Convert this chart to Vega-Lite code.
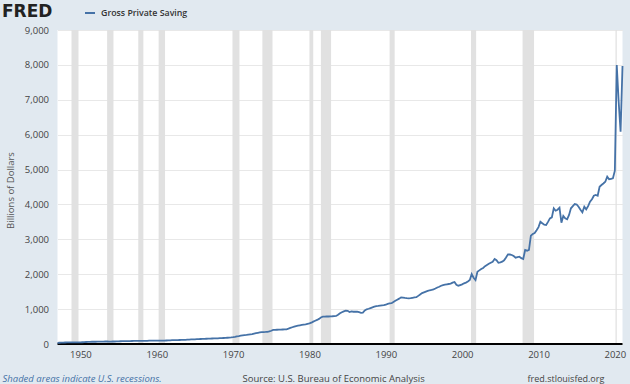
{
  "$schema": "https://vega.github.io/schema/vega-lite/v6.json",
  "autosize": {"type": "none"},
  "width": 565,
  "height": 314,
  "padding": {"left": 57.5, "top": 30, "right": 7.5, "bottom": 40},
  "background": "#e1e9f0",
  "view": {"fill": "white", "stroke": null},
  "config": {"font": "Open Sans"},
  "resolve": {"axis": {"x": "independent", "y": "independent"}},
  "layer": [
    {
      "data": {"values": [
        {"start": "1948-11-01", "end": "1949-10-01"},
        {"start": "1953-07-01", "end": "1954-05-01"},
        {"start": "1957-08-01", "end": "1958-04-01"},
        {"start": "1960-04-01", "end": "1961-02-01"},
        {"start": "1969-12-01", "end": "1970-11-01"},
        {"start": "1973-11-01", "end": "1975-03-01"},
        {"start": "1980-01-01", "end": "1980-07-01"},
        {"start": "1981-07-01", "end": "1982-11-01"},
        {"start": "1990-07-01", "end": "1991-03-01"},
        {"start": "2001-03-01", "end": "2001-11-01"},
        {"start": "2007-12-01", "end": "2009-06-01"},
        {"start": "2020-02-01", "end": "2020-04-01"}
      ]},
      "mark": {"type": "rect", "color": "#e1e1e1"},
      "encoding": {
        "x": {"field": "start", "type": "temporal",
              "scale": {"domain": ["1947-01-01", "2021-01-01"]},
              "axis": {"orient": "bottom", "title": "Shaded areas indicate U.S. recessions.", "labels": false, "ticks": false, "domain": false, "grid": false,
                       "titleX": -55.5, "titleY": 34, "titleAlign": "left", "titleBaseline": "middle", "titleAnchor": null,
                       "titleFont": "Open Sans", "titleFontSize": 9.5, "titleFontWeight": "normal", "titleFontStyle": "italic", "titleColor": "#4572a7"}},
        "x2": {"field": "end"}
      }
    },
    {
      "data": {"values": [{}]},
      "mark": {"type": "rule", "color": "#000000", "strokeWidth": 2},
      "encoding": {
        "y": {"datum": 0, "type": "quantitative",
              "scale": {"domain": [0, 9000], "nice": false},
              "axis": {"orient": "right", "title": "fred.stlouisfed.org", "labels": false, "ticks": false, "domain": false, "grid": false,
                       "titleAngle": 0, "titleX": -95.5, "titleY": 348, "titleAlign": "left", "titleBaseline": "middle", "titleAnchor": null,
                       "titleFont": "Open Sans", "titleFontSize": 9, "titleFontWeight": "normal", "titleColor": "#444444"}}
      }
    },
    {
      "data": {"values": [
{"date":"1947-01-01","value":34},{"date":"1947-04-01","value":36},{"date":"1947-07-01","value":38},{"date":"1947-10-01","value":40},
{"date":"1948-01-01","value":43},{"date":"1948-04-01","value":46},{"date":"1948-07-01","value":48},{"date":"1948-10-01","value":49},
{"date":"1949-01-01","value":47},{"date":"1949-04-01","value":45},{"date":"1949-07-01","value":44},{"date":"1949-10-01","value":44},
{"date":"1950-01-01","value":47},{"date":"1950-04-01","value":50},{"date":"1950-07-01","value":54},{"date":"1950-10-01","value":57},
{"date":"1951-01-01","value":60},{"date":"1951-04-01","value":62},{"date":"1951-07-01","value":64},{"date":"1951-10-01","value":65},
{"date":"1952-01-01","value":65},{"date":"1952-04-01","value":66},{"date":"1952-07-01","value":67},{"date":"1952-10-01","value":68},
{"date":"1953-01-01","value":70},{"date":"1953-04-01","value":71},{"date":"1953-07-01","value":71},{"date":"1953-10-01","value":70},
{"date":"1954-01-01","value":70},{"date":"1954-04-01","value":71},{"date":"1954-07-01","value":72},{"date":"1954-10-01","value":74},
{"date":"1955-01-01","value":77},{"date":"1955-04-01","value":79},{"date":"1955-07-01","value":81},{"date":"1955-10-01","value":82},
{"date":"1956-01-01","value":83},{"date":"1956-04-01","value":84},{"date":"1956-07-01","value":85},{"date":"1956-10-01","value":86},
{"date":"1957-01-01","value":88},{"date":"1957-04-01","value":89},{"date":"1957-07-01","value":90},{"date":"1957-10-01","value":88},
{"date":"1958-01-01","value":87},{"date":"1958-04-01","value":87},{"date":"1958-07-01","value":89},{"date":"1958-10-01","value":92},
{"date":"1959-01-01","value":96},{"date":"1959-04-01","value":98},{"date":"1959-07-01","value":97},{"date":"1959-10-01","value":98},
{"date":"1960-01-01","value":99},{"date":"1960-04-01","value":98},{"date":"1960-07-01","value":98},{"date":"1960-10-01","value":97},
{"date":"1961-01-01","value":99},{"date":"1961-04-01","value":101},{"date":"1961-07-01","value":104},{"date":"1961-10-01","value":106},
{"date":"1962-01-01","value":109},{"date":"1962-04-01","value":111},{"date":"1962-07-01","value":112},{"date":"1962-10-01","value":113},
{"date":"1963-01-01","value":114},{"date":"1963-04-01","value":116},{"date":"1963-07-01","value":118},{"date":"1963-10-01","value":120},
{"date":"1964-01-01","value":124},{"date":"1964-04-01","value":127},{"date":"1964-07-01","value":130},{"date":"1964-10-01","value":132},
{"date":"1965-01-01","value":135},{"date":"1965-04-01","value":138},{"date":"1965-07-01","value":141},{"date":"1965-10-01","value":143},
{"date":"1966-01-01","value":145},{"date":"1966-04-01","value":148},{"date":"1966-07-01","value":151},{"date":"1966-10-01","value":153},
{"date":"1967-01-01","value":156},{"date":"1967-04-01","value":158},{"date":"1967-07-01","value":160},{"date":"1967-10-01","value":162},
{"date":"1968-01-01","value":164},{"date":"1968-04-01","value":167},{"date":"1968-07-01","value":170},{"date":"1968-10-01","value":172},
{"date":"1969-01-01","value":175},{"date":"1969-04-01","value":179},{"date":"1969-07-01","value":184},{"date":"1969-10-01","value":188},
{"date":"1970-01-01","value":195},{"date":"1970-04-01","value":205},{"date":"1970-07-01","value":218},{"date":"1970-10-01","value":228},
{"date":"1971-01-01","value":240},{"date":"1971-04-01","value":250},{"date":"1971-07-01","value":256},{"date":"1971-10-01","value":262},
{"date":"1972-01-01","value":270},{"date":"1972-04-01","value":278},{"date":"1972-07-01","value":285},{"date":"1972-10-01","value":298},
{"date":"1973-01-01","value":310},{"date":"1973-04-01","value":320},{"date":"1973-07-01","value":330},{"date":"1973-10-01","value":340},
{"date":"1974-01-01","value":342},{"date":"1974-04-01","value":345},{"date":"1974-07-01","value":350},{"date":"1974-10-01","value":362},
{"date":"1975-01-01","value":380},{"date":"1975-04-01","value":402},{"date":"1975-07-01","value":405},{"date":"1975-10-01","value":408},
{"date":"1976-01-01","value":410},{"date":"1976-04-01","value":413},{"date":"1976-07-01","value":416},{"date":"1976-10-01","value":418},
{"date":"1977-01-01","value":422},{"date":"1977-04-01","value":440},{"date":"1977-07-01","value":460},{"date":"1977-10-01","value":480},
{"date":"1978-01-01","value":498},{"date":"1978-04-01","value":515},{"date":"1978-07-01","value":525},{"date":"1978-10-01","value":535},
{"date":"1979-01-01","value":545},{"date":"1979-04-01","value":555},{"date":"1979-07-01","value":565},{"date":"1979-10-01","value":580},
{"date":"1980-01-01","value":592},{"date":"1980-04-01","value":610},{"date":"1980-07-01","value":640},{"date":"1980-10-01","value":665},
{"date":"1981-01-01","value":690},{"date":"1981-04-01","value":720},{"date":"1981-07-01","value":760},{"date":"1981-10-01","value":782},
{"date":"1982-01-01","value":785},{"date":"1982-04-01","value":790},{"date":"1982-07-01","value":788},{"date":"1982-10-01","value":792},
{"date":"1983-01-01","value":795},{"date":"1983-04-01","value":800},{"date":"1983-07-01","value":805},{"date":"1983-10-01","value":840},
{"date":"1984-01-01","value":880},{"date":"1984-04-01","value":910},{"date":"1984-07-01","value":935},{"date":"1984-10-01","value":955},
{"date":"1985-01-01","value":950},{"date":"1985-04-01","value":915},{"date":"1985-07-01","value":935},{"date":"1985-10-01","value":925},
{"date":"1986-01-01","value":925},{"date":"1986-04-01","value":930},{"date":"1986-07-01","value":912},{"date":"1986-10-01","value":895},
{"date":"1987-01-01","value":900},{"date":"1987-04-01","value":960},{"date":"1987-07-01","value":995},{"date":"1987-10-01","value":1010},
{"date":"1988-01-01","value":1030},{"date":"1988-04-01","value":1050},{"date":"1988-07-01","value":1070},{"date":"1988-10-01","value":1088},
{"date":"1989-01-01","value":1092},{"date":"1989-04-01","value":1100},{"date":"1989-07-01","value":1108},{"date":"1989-10-01","value":1112},
{"date":"1990-01-01","value":1125},{"date":"1990-04-01","value":1150},{"date":"1990-07-01","value":1165},{"date":"1990-10-01","value":1170},
{"date":"1991-01-01","value":1205},{"date":"1991-04-01","value":1240},{"date":"1991-07-01","value":1270},{"date":"1991-10-01","value":1300},
{"date":"1992-01-01","value":1338},{"date":"1992-04-01","value":1330},{"date":"1992-07-01","value":1320},{"date":"1992-10-01","value":1312},
{"date":"1993-01-01","value":1308},{"date":"1993-04-01","value":1315},{"date":"1993-07-01","value":1325},{"date":"1993-10-01","value":1335},
{"date":"1994-01-01","value":1340},{"date":"1994-04-01","value":1380},{"date":"1994-07-01","value":1420},{"date":"1994-10-01","value":1460},
{"date":"1995-01-01","value":1480},{"date":"1995-04-01","value":1500},{"date":"1995-07-01","value":1520},{"date":"1995-10-01","value":1540},
{"date":"1996-01-01","value":1550},{"date":"1996-04-01","value":1568},{"date":"1996-07-01","value":1590},{"date":"1996-10-01","value":1620},
{"date":"1997-01-01","value":1640},{"date":"1997-04-01","value":1670},{"date":"1997-07-01","value":1690},{"date":"1997-10-01","value":1700},
{"date":"1998-01-01","value":1710},{"date":"1998-04-01","value":1720},{"date":"1998-07-01","value":1730},{"date":"1998-10-01","value":1760},
{"date":"1999-01-01","value":1777},{"date":"1999-04-01","value":1700},{"date":"1999-07-01","value":1671},{"date":"1999-10-01","value":1690},
{"date":"2000-01-01","value":1710},{"date":"2000-04-01","value":1740},{"date":"2000-07-01","value":1760},{"date":"2000-10-01","value":1790},
{"date":"2001-01-01","value":1834},{"date":"2001-04-01","value":2006},{"date":"2001-07-01","value":1900},{"date":"2001-10-01","value":1834},
{"date":"2002-01-01","value":2072},{"date":"2002-04-01","value":2110},{"date":"2002-07-01","value":2150},{"date":"2002-10-01","value":2180},
{"date":"2003-01-01","value":2230},{"date":"2003-04-01","value":2264},{"date":"2003-07-01","value":2300},{"date":"2003-10-01","value":2330},
{"date":"2004-01-01","value":2359},{"date":"2004-04-01","value":2436},{"date":"2004-07-01","value":2400},{"date":"2004-10-01","value":2330},
{"date":"2005-01-01","value":2340},{"date":"2005-04-01","value":2359},{"date":"2005-07-01","value":2400},{"date":"2005-10-01","value":2480},
{"date":"2006-01-01","value":2570},{"date":"2006-04-01","value":2565},{"date":"2006-07-01","value":2551},{"date":"2006-10-01","value":2520},
{"date":"2007-01-01","value":2473},{"date":"2007-04-01","value":2490},{"date":"2007-07-01","value":2502},{"date":"2007-10-01","value":2460},
{"date":"2008-01-01","value":2436},{"date":"2008-04-01","value":2694},{"date":"2008-07-01","value":2674},{"date":"2008-10-01","value":2700},
{"date":"2009-01-01","value":3104},{"date":"2009-04-01","value":3153},{"date":"2009-07-01","value":3180},{"date":"2009-10-01","value":3260},
{"date":"2010-01-01","value":3350},{"date":"2010-04-01","value":3505},{"date":"2010-07-01","value":3460},{"date":"2010-10-01","value":3420},
{"date":"2011-01-01","value":3411},{"date":"2011-04-01","value":3500},{"date":"2011-07-01","value":3600},{"date":"2011-10-01","value":3631},
{"date":"2012-01-01","value":3889},{"date":"2012-04-01","value":3821},{"date":"2012-07-01","value":3850},{"date":"2012-10-01","value":3906},
{"date":"2013-01-01","value":3477},{"date":"2013-04-01","value":3668},{"date":"2013-07-01","value":3600},{"date":"2013-10-01","value":3573},
{"date":"2014-01-01","value":3700},{"date":"2014-04-01","value":3889},{"date":"2014-07-01","value":3950},{"date":"2014-10-01","value":4012},
{"date":"2015-01-01","value":4000},{"date":"2015-04-01","value":3935},{"date":"2015-07-01","value":3850},{"date":"2015-10-01","value":3774},
{"date":"2016-01-01","value":3935},{"date":"2016-04-01","value":3860},{"date":"2016-07-01","value":3950},{"date":"2016-10-01","value":4078},
{"date":"2017-01-01","value":4150},{"date":"2017-04-01","value":4250},{"date":"2017-07-01","value":4270},{"date":"2017-10-01","value":4250},
{"date":"2018-01-01","value":4508},{"date":"2018-04-01","value":4557},{"date":"2018-07-01","value":4600},{"date":"2018-10-01","value":4650},
{"date":"2019-01-01","value":4795},{"date":"2019-04-01","value":4720},{"date":"2019-07-01","value":4735},{"date":"2019-10-01","value":4749},
{"date":"2020-01-01","value":4967},{"date":"2020-04-01","value":7996},{"date":"2020-07-01","value":6950},{"date":"2020-10-01","value":6085},
{"date":"2021-01-01","value":7968}
      ]},
      "mark": {"type": "line", "strokeWidth": 1.8},
      "encoding": {
        "x": {"field": "date", "type": "temporal",
              "scale": {"domain": ["1947-01-01", "2021-01-01"]},
              "axis": {"orient": "bottom", "format": "%Y", "tickCount": {"interval": "year", "step": 10}, "grid": false, "ticks": false, "domain": false,
                       "labelFont": "Open Sans", "labelFontSize": 9.5, "labelColor": "#444444", "labelPadding": 5,
                       "title": "Source: U.S. Bureau of Economic Analysis", "titleX": 184.5, "titleY": 34, "titleAlign": "left", "titleBaseline": "middle", "titleAnchor": null,
                       "titleFont": "Open Sans", "titleFontSize": 9.5, "titleFontWeight": "normal", "titleColor": "#444444"}},
        "y": {"field": "value", "type": "quantitative",
              "scale": {"domain": [0, 9000], "nice": false},
              "axis": {"orient": "left", "values": [0, 1000, 2000, 3000, 4000, 5000, 6000, 7000, 8000, 9000], "format": ",.0f", "grid": true, "gridColor": "#e8e8e8",
                       "ticks": false, "domain": false, "labelFont": "Open Sans", "labelFontSize": 9.5, "labelColor": "#444444", "labelPadding": 9,
                       "title": "Billions of Dollars", "titleX": -47.5, "titleY": 160, "titleAnchor": null, "titleBaseline": "middle",
                       "titleFont": "Open Sans", "titleFontSize": 9.5, "titleFontWeight": "normal", "titleColor": "#555555"}},
        "color": {"datum": "Gross Private Saving", "type": "nominal",
                  "scale": {"range": ["#4572a7"]},
                  "legend": {"orient": "none", "legendX": -55.5, "legendY": -23, "direction": "horizontal",
                             "title": "FRED", "titleOrient": "left", "titleFont": "DejaVu Sans", "titleFontSize": 17, "titleFontWeight": "bold", "titleColor": "#222222", "titlePadding": 31, "titleBaseline": "middle", "titleAnchor": "middle",
                             "symbolType": "stroke", "symbolStrokeWidth": 2, "symbolSize": 100, "labelFont": "Open Sans", "labelFontSize": 8.8, "labelFontWeight": 600, "labelColor": "#333333", "labelOffset": 5, "padding": 0}}
      }
    }
  ]
}
